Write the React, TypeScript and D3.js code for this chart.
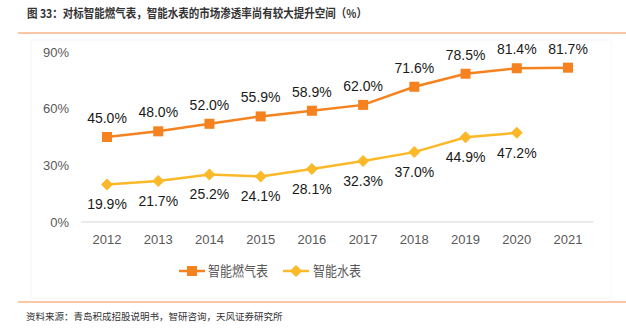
import React from "react";
import * as d3 from "d3";

const years = ["2012", "2013", "2014", "2015", "2016", "2017", "2018", "2019", "2020", "2021"];
const gasMeter = [45.0, 48.0, 52.0, 55.9, 58.9, 62.0, 71.6, 78.5, 81.4, 81.7];
const waterMeter = [19.9, 21.7, 25.2, 24.1, 28.1, 32.3, 37.0, 44.9, 47.2];
const yTicks = [0, 30, 60, 90];
const seriesNames = ["智能燃气表", "智能水表"];
const title = "图 33：对标智能燃气表，智能水表的市场渗透率尚有较大提升空间（%）";
const source = "资料来源：青岛积成招股说明书，智研咨询，天风证券研究所";

const ORANGE = "#F5821F";
const YELLOW = "#FBB829";
const CJK = "'Noto Sans CJK SC', 'Noto Sans', sans-serif";
const LATIN = "'Liberation Sans', Arial, sans-serif";

export default function App() {
  const W = 626, H = 334;
  const x = d3.scaleBand<string>().domain(years).range([81.4, 593.6]);
  const y = d3.scaleLinear().domain([0, 90]).range([222, 52]);
  const cx = (i: number) => (x(years[i]) as number) + x.bandwidth() / 2;
  const line = d3.line<number>().x((_, i) => cx(i)).y((d) => y(d));
  const diamond = (px: number, py: number, r: number) =>
    `M${px},${py - r}L${px + r},${py}L${px},${py + r}L${px - r},${py}Z`;

  return (
    <svg width={W} height={H} style={{ position: "absolute", left: 0, top: 0, background: "#fff" }}>
      <text x={27} y={18} fontFamily={CJK} fontSize={12} fontWeight={700} fill="#333"
        textLength={340} lengthAdjust="spacingAndGlyphs">{title}</text>
      <line x1={18} x2={626} y1={33} y2={33} stroke="#F7B486" strokeWidth={1.5} />
      <rect x={31} y={40} width={580} height={258} fill="none" stroke="#f6f6f6" strokeWidth={1} />

      {yTicks.map((t) => (
        <text key={t} x={69} y={y(t)} dy="0.35em" textAnchor="end" fontFamily={LATIN} fontSize={13} fill="#595959">
          {t}%
        </text>
      ))}
      <line x1={81.4} x2={593.6} y1={y(0)} y2={y(0)} stroke="#e3e3e3" strokeWidth={1.5} />
      {years.map((yr) => (
        <text key={yr} x={(x(yr) as number) + x.bandwidth() / 2} y={239} dy="0.35em" textAnchor="middle"
          fontFamily={LATIN} fontSize={13} fill="#595959">{yr}</text>
      ))}

      <path d={line(gasMeter) || ""} fill="none" stroke={ORANGE} strokeWidth={2.5} />
      {gasMeter.map((v, i) => (
        <g key={"g" + i}>
          <rect x={cx(i) - 5} y={y(v) - 5} width={10} height={10} fill={ORANGE} />
          <text x={cx(i)} y={y(v) - 19} dy="0.35em" textAnchor="middle" fontFamily={LATIN} fontSize={14} fill="#1a1a1a">
            {v.toFixed(1)}%
          </text>
        </g>
      ))}

      <path d={line(waterMeter) || ""} fill="none" stroke={YELLOW} strokeWidth={2.5} />
      {waterMeter.map((v, i) => (
        <g key={"w" + i}>
          <path d={diamond(cx(i), y(v), 6)} fill={YELLOW} />
          <text x={cx(i)} y={y(v) + 20} dy="0.35em" textAnchor="middle" fontFamily={LATIN} fontSize={14} fill="#1a1a1a">
            {v.toFixed(1)}%
          </text>
        </g>
      ))}

      <g>
        <line x1={179} x2={205} y1={271} y2={271} stroke={ORANGE} strokeWidth={2.5} />
        <rect x={187} y={266} width={10} height={10} fill={ORANGE} />
        <text x={208} y={271} dy="0.35em" fontFamily={CJK} fontSize={14} fill="#595959"
          textLength={60} lengthAdjust="spacingAndGlyphs">{seriesNames[0]}</text>
        <line x1={283} x2={309} y1={271} y2={271} stroke={YELLOW} strokeWidth={2.5} />
        <path d={diamond(296, 271, 6)} fill={YELLOW} />
        <text x={313} y={271} dy="0.35em" fontFamily={CJK} fontSize={14} fill="#595959"
          textLength={48} lengthAdjust="spacingAndGlyphs">{seriesNames[1]}</text>
      </g>

      <line x1={18} x2={626} y1={302} y2={302} stroke="#F7B486" strokeWidth={1.5} />
      <text x={26} y={317} dy="0.35em" fontFamily={CJK} fontSize={9.5} fill="#333">{source}</text>
    </svg>
  );
}
